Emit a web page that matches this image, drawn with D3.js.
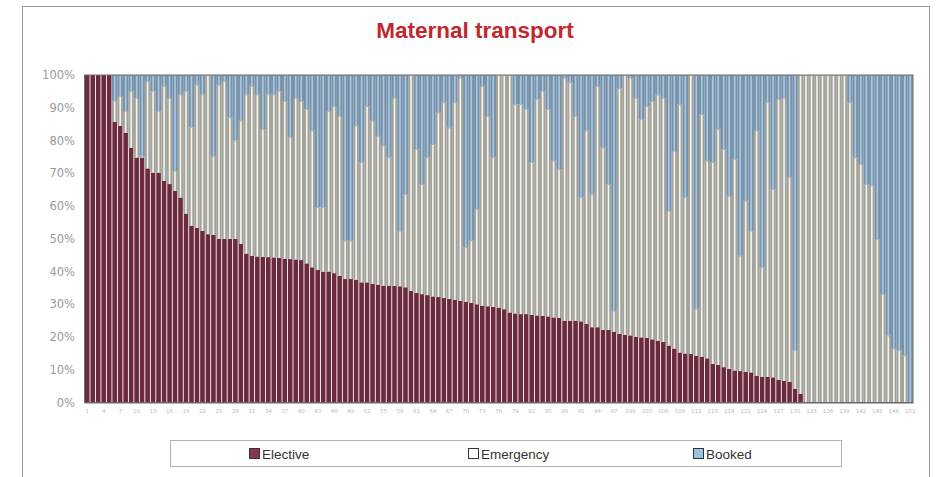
<!DOCTYPE html>
<html><head><meta charset="utf-8">
<script src="https://cdn.jsdelivr.net/npm/d3@7/dist/d3.min.js"></script>
<style>body{margin:0;background:#fff} svg{display:block}</style>
</head><body><svg id="chart" width="939" height="477"></svg>
<script>
const title = "Maternal transport";
const categories = d3.range(1, 152);
const seriesNames = ["Elective", "Emergency", "Booked"];
const elective = [100,100,100,100,100, 85.7,84.5,82.4,77.8,74.8, 74.8,71.5,70.2,70.2,67.7, 66.7,64.6,62.6,57.7,54.0,
  53.3,52.4,51.4,51.2,50.0, 50.0,50.0,50.0,48.4,45.5, 44.8,44.6,44.5,44.4,44.3, 44.2,43.9,43.8,43.7,43.5,
  42.5,41.3,40.5,40.0,40.0, 39.5,38.7,37.7,37.7,37.5, 36.7,36.7,36.2,36.0,35.7, 35.7,35.6,35.5,35.2,34.1,
  33.5,33.1,32.8,32.4,32.2, 31.9,31.6,31.3,31.0,30.8, 30.4,30.0,29.6,29.4,29.2, 29.0,28.5,27.5,27.2,27.0,
  27.0,26.8,26.6,26.5,26.3, 26.0,25.8,25.0,25.0,25.0, 24.8,24.0,23.0,23.0,22.2, 22.2,21.6,21.0,20.7,20.5,
  20.1,19.9,19.7,19.3,18.9, 18.5,17.4,16.5,15.3,15.0, 14.8,14.2,14.0,13.5,11.8, 11.5,10.8,10.3,9.8,9.6,
  9.4,9.2,8.2,7.9,7.8, 7.7,7.0,6.6,6.3,4.2, 2.6,0,0,0,0, 0,0,0,0,0, 0,0,0,0,0, 0,0,0,0,0, 0];
const booked = [0,0,0,0,0, 7.9,6.4,11,5,7, 24.7,2,5,11,3.4, 7,29.3,6,5,16,
  3,6,0,24.7,3, 2,13,20,14,6, 3.4,6,16.6,6,6, 5,8,19,7,8,
  10.5,17,40.4,40.4,11, 9.5,12.5,50.6,50.6,15.5, 26.7,9.5,14,18.6,21.6, 25.2,7,47.6,36.4,0,
  22.7,33.3,25.2,21.1,11.5, 8.4,16.1,8.4,1,52.6, 50.6,41,3.4,12.5,25.2, 0,0,0,9,9,
  10.5,26.7,7.4,5,10.5, 26.2,28.8,1,2.3,12.5, 37.4,17,36.4,3.4,22.2, 33.3,72,4,0,1,
  7,13.5,9.5,8,6, 7,41.5,23.2,9,37.4, 0,71.4,12,26.2,26.7, 16.6,22.7,36.9,25.7,55.2,
  38.4,47.6,17,58.7,8.4, 34.9,7.4,7,31.3,84.1, 0,0,0,0,0, 0,0,0,0,8.4,
  25.2,27.2,33.3,33.8,50.1, 66.9,79.6,83.6,84.1,85.7, 100];
const emergency = [0,0,0,0,0, 6.4,9.1,6.6,17.2,18.2, 0.5,26.5,24.8,18.8,28.9, 26.3,6.1,31.4,37.3,30,
  43.7,41.6,48.6,24.1,47, 48,37,30,37.6,48.5, 51.8,49.4,38.9,49.6,49.7, 50.8,48.1,37.2,49.3,48.5,
  47,41.7,19.1,19.6,49, 51,48.8,11.7,11.7,47, 36.6,53.8,49.8,45.4,42.7, 39.1,57.4,16.9,28.4,65.9,
  43.8,33.6,42,46.5,56.3, 59.7,52.3,60.3,68,16.6, 19,29,67,58.1,45.6, 71,71.5,72.5,63.8,64,
  62.5,46.5,66,68.5,63.2, 47.8,45.4,74,72.7,62.5, 37.8,59,40.6,73.6,55.6, 44.5,6.4,75,79.3,78.5,
  72.9,66.6,70.8,72.7,75.1, 74.5,41.1,60.3,75.7,47.6, 85.2,14.4,74,60.3,61.5, 71.9,66.5,52.8,64.5,35.2,
  52.2,43.2,74.8,33.4,83.8, 57.4,85.6,86.4,62.4,11.7, 97.4,100,100,100,100, 100,100,100,100,91.6,
  74.8,72.8,66.7,66.2,49.9, 33.1,20.4,16.4,15.9,14.3, 0];
const yTicks = [0,10,20,30,40,50,60,70,80,90,100];
const xTickLabels = categories.filter((d, i) => i % 3 === 0);
// bar body colour, light centre-line colour, legend swatch colour
const bodyColors = {Elective: "#6c2a3d", Emergency: "#a2a29b", Booked: "#7891a6"};
const lineColors = {Elective: null, Emergency: "#f6f6f0", Booked: "#a9c9e6"};
const legendColors = {Elective: "#8a3550", Emergency: "#ffffff", Booked: "#9cc2e2"};

const svg = d3.select("#chart");
const plot = {left: 84.5, right: 913, top: 75, bottom: 402.5};

svg.append("rect").attr("x", 22.5).attr("y", 6.5).attr("width", 907).attr("height", 490)
  .attr("fill", "none").attr("stroke", "#9a9a9a").attr("stroke-width", 1);

svg.append("text").attr("x", 475).attr("y", 38).attr("text-anchor", "middle")
  .attr("font-family", "Liberation Sans, Arial, sans-serif").attr("font-weight", "bold")
  .attr("font-size", "22.5px").attr("fill", "#c1272d").text(title);

const rows = categories.map((c, i) => ({cat: c, Elective: elective[i], Emergency: emergency[i], Booked: booked[i]}));
const stacked = d3.stack().keys(seriesNames).offset(d3.stackOffsetExpand)(rows);

const x = d3.scaleBand().domain(categories).range([plot.left, plot.right]).paddingInner(0.16).paddingOuter(0.08);
const y = d3.scaleLinear().domain([0, 1]).range([plot.bottom, plot.top]);
const yAxisScale = d3.scaleLinear().domain([0, 100]).range([plot.bottom, plot.top]);
const gapHalf = (x.step() - x.bandwidth()) / 2;

const g = svg.append("g");
stacked.forEach(s => {
  const data = s.filter(d => d[1] - d[0] > 0);
  const full = s.key !== "Elective";
  g.append("g").selectAll("rect").data(data).join("rect")
    .attr("x", d => full ? x(d.data.cat) - gapHalf : x(d.data.cat))
    .attr("width", full ? x.step() : x.bandwidth())
    .attr("y", d => y(d[1]))
    .attr("height", d => y(d[0]) - y(d[1]))
    .attr("fill", bodyColors[s.key]);
  if (lineColors[s.key]) {
    g.append("g").selectAll("rect").data(data).join("rect")
      .attr("x", d => x(d.data.cat) + x.bandwidth() / 2 - 0.8)
      .attr("width", 1.6)
      .attr("y", d => y(d[1]) + 0.6)
      .attr("height", d => Math.max(0, y(d[0]) - y(d[1]) - 0.6))
      .attr("fill", lineColors[s.key]);
  }
});

svg.append("rect").attr("x", plot.left).attr("y", plot.top).attr("width", plot.right - plot.left)
  .attr("height", plot.bottom - plot.top).attr("fill", "none").attr("stroke", "#6e6e6e").attr("stroke-width", 1);

const yAxis = d3.axisLeft(yAxisScale).tickValues(yTicks).tickFormat(d => d + "%").tickSize(0).tickPadding(9.5);
const yg = svg.append("g").attr("transform", `translate(${plot.left},0)`).call(yAxis);
yg.select(".domain").remove();
yg.selectAll("text").attr("font-family", "DejaVu Sans, Verdana, sans-serif").attr("font-size", "11.5px").attr("fill", "#9a9a9a");

const xAxis = d3.axisBottom(x).tickValues(xTickLabels).tickSize(0).tickPadding(7);
const xg = svg.append("g").attr("transform", `translate(0,${plot.bottom})`).call(xAxis);
xg.select(".domain").attr("stroke", "#666");
xg.selectAll("text").attr("font-family", "DejaVu Sans, Verdana, sans-serif").attr("font-size", "5.5px").attr("fill", "#b8b8b8");

const lg = svg.append("g");
lg.append("rect").attr("x", 170.5).attr("y", 440.5).attr("width", 671).attr("height", 26)
  .attr("fill", "#fff").attr("stroke", "#b0b0b0");
const legendX = [249, 468, 693];
seriesNames.forEach((k, i) => {
  lg.append("rect").attr("x", legendX[i] + 0.5).attr("y", 448.5).attr("width", 10).attr("height", 10)
    .attr("fill", legendColors[k]).attr("stroke", "#333");
  lg.append("text").attr("x", legendX[i] + 13).attr("y", 458.5)
    .attr("font-family", "Liberation Sans, Arial, sans-serif").attr("font-size", "13.5px").attr("fill", "#333").text(k);
});
</script></body></html>
